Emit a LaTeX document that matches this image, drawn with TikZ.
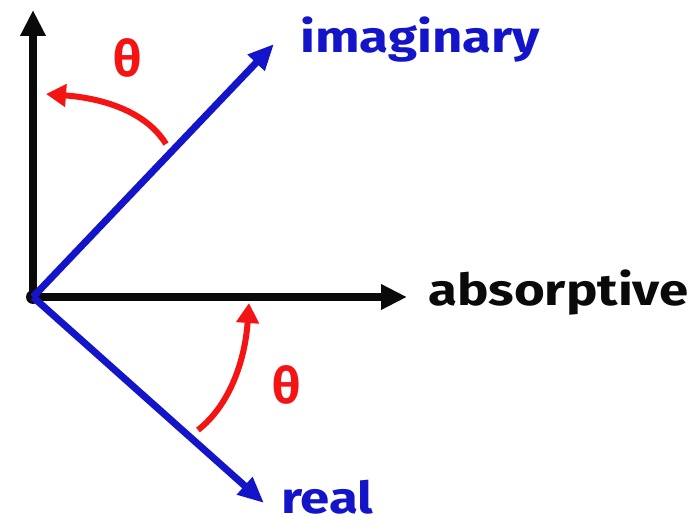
\documentclass[tikz,border=0pt]{standalone}
\usepackage{fontspec}
\setmainfont{Fira Sans}
\newfontfamily\handfont[FakeStretch=1.2]{Fira Sans}
\usetikzlibrary{arrows.meta, positioning}
\definecolor{axk}{RGB}{10,10,10}
\definecolor{phb}{RGB}{20,20,200}
\definecolor{angr}{RGB}{245,20,20}
\tikzset{
  axis/.style={-{Triangle[length=26pt,width=24pt]}, line width=8pt, draw=axk},
  vec/.style={-{Triangle[length=26pt,width=22pt]}, line width=7pt, draw=phb},
  % Winkelpfeil
  ang/.style={-{Triangle[length=20pt,width=22pt]}, line width=6pt, draw=angr},
  lbl/.style={font=\handfont\fontsize{44}{48}\selectfont\bfseries, inner sep=0pt, anchor=west},
  th/.style={font=\fontsize{50}{52}\selectfont\bfseries, text=angr, inner sep=0pt}
}
\begin{document}
\begin{tikzpicture}[x=1pt,y=-1pt]
    \useasboundingbox (0,0) rectangle (689,529);
    \node[circle, fill=axk, minimum size=14pt, inner sep=0pt] (o) at (33,297) {};
    \coordinate (vtip) at (33,10);
    \coordinate (htip) at (407,297);
    \coordinate (itip) at (274,44);
    \coordinate (rtip) at (264,503);

    \node[lbl, text=phb] (imag) at (300,40) {imaginary};
    \node[lbl, text=axk] (abs) at (428,293) {absorptive};
    \node[lbl, text=phb] (real) at (281,497) {real};

    \draw[axis] (o.center) -- (vtip);
    \draw[axis] (o.center) -- (htip);
    \draw[vec]  (o.center) -- (itip);
    \draw[vec]  (o.center) -- (rtip);

    \coordinate (a1) at (166,144);
    \coordinate (a2) at (46,94);
    \coordinate (b1) at (198,430);
    \coordinate (b2) at (249,303);
    \draw[ang] (a1) .. controls (145,110) and (100,98) .. (a2);
    \draw[ang] (b1) .. controls (230,405) and (245,360) .. (b2);

    \node[th] (th1) at (128,58) {θ};
    \node[th] (th2) at (287,385) {θ};
  \end{tikzpicture}
\end{document}
